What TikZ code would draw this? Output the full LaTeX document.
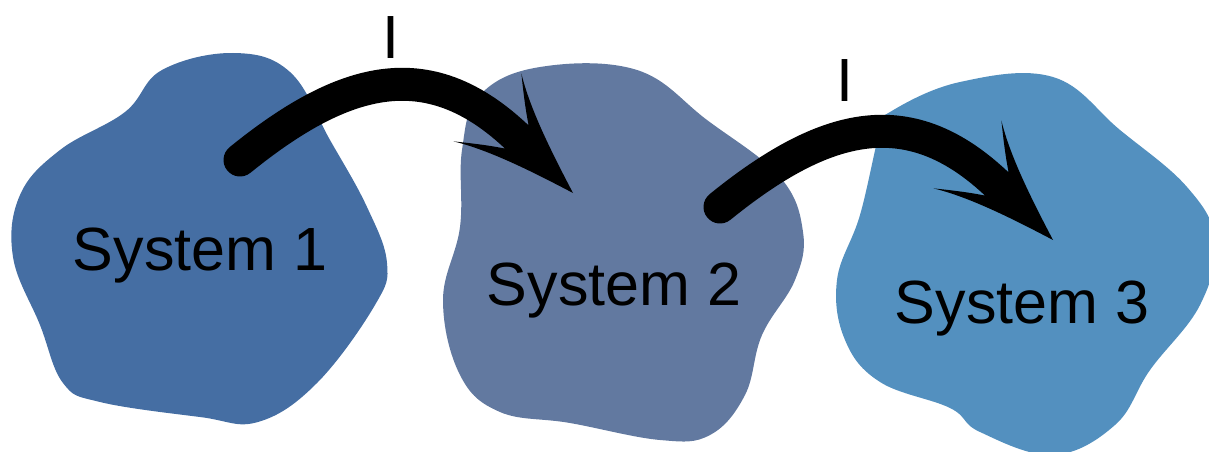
\documentclass[tikz,border=0pt]{standalone}
\usepackage{fontspec}
\setmainfont{Liberation Sans}
\usetikzlibrary{arrows.meta}

% A barbed arrow head with slightly hollow flanks
\pgfdeclarearrow{
  name = Swoop,
  setup code = {
    \pgfarrowssettipend{0pt}
    \pgfarrowssetbackend{-121pt}
    \pgfarrowssetlineend{-70pt}
    \pgfarrowshullpoint{0pt}{0pt}
    \pgfarrowshullpoint{-121pt}{47pt}
    \pgfarrowshullpoint{-121pt}{-47pt}
  },
  drawing code = {
    \pgfpathmoveto{\pgfpointorigin}
    \pgfpathcurveto{\pgfpoint{-45pt}{14pt}}{\pgfpoint{-90pt}{29pt}}{\pgfpoint{-121pt}{48pt}}
    \pgfpathcurveto{\pgfpoint{-105pt}{35pt}}{\pgfpoint{-92pt}{25pt}}{\pgfpoint{-80pt}{17pt}}
    \pgfpathlineto{\pgfpoint{-80pt}{-17pt}}
    \pgfpathcurveto{\pgfpoint{-92pt}{-25pt}}{\pgfpoint{-105pt}{-35pt}}{\pgfpoint{-121pt}{-48pt}}
    \pgfpathcurveto{\pgfpoint{-90pt}{-29pt}}{\pgfpoint{-45pt}{-14pt}}{\pgfpointorigin}
    \pgfpathclose
    \pgfusepathqfill
  }
}

\definecolor{blobA}{HTML}{456EA3}
\definecolor{blobB}{HTML}{6279A0}
\definecolor{blobC}{HTML}{5390BF}

\tikzset{
  syslabel/.style={anchor=base, inner sep=0pt, font=\fontsize{61}{70}\selectfont},
  flowlabel/.style={anchor=base, inner sep=0pt, font=\fontsize{61}{70}\selectfont},
  transfer/.style={line width=33pt, line cap=round, -Swoop}
}

\begin{document}
\begin{tikzpicture}[x=1pt, y=-1pt]
\useasboundingbox (0,0) rectangle (1209,452);
\clip (0,0) rectangle (1209,452);

% system regions
\fill[blobA] plot[smooth cycle, tension=0.65] coordinates {
  (162,70) (233,53) (290,72) (330,140) (367,207) (387,263) (375,305)
  (317,383) (258,422) (200,417) (100,402) (63,383) (40,325) (13,257)
  (20,195) (60,150) (125,112)};
\fill[blobB] plot[smooth cycle, tension=0.65] coordinates {
  (480,95) (540,67) (637,70) (707,120) (780,177) (803,232) (795,280)
  (762,335) (745,395) (710,435) (660,440) (570,423) (500,412) (460,375)
  (443,300) (460,227) (462,150)};
\fill[blobC] plot[smooth cycle, tension=0.65] coordinates {
  (890,112) (960,82) (1053,77) (1120,130) (1187,187) (1215,240)
  (1200,305) (1150,370) (1115,425) (1053,455) (980,432) (950,408)
  (880,382) (845,340) (837,280) (860,215) (880,130)};

% labels
\node[syslabel] (sys1) at (200,270) {System 1};
\node[syslabel] (sys2) at (614,305) {System 2};
\node[syslabel] (sys3) at (1022,323) {System 3};

% transfer arrows
\coordinate (out1) at (240,160);
\coordinate (in2)  at (573,193);
\coordinate (out2) at (720,207);
\coordinate (in3)  at (1053,240);

\draw[transfer] (out1) .. controls (351,70) and (435,55) .. (in2);
\draw[transfer] (out2) .. controls (831,117) and (915,102) .. (in3);

\node[flowlabel] (i1) at (391,59) {I};
\node[flowlabel] (i2) at (845,101) {I};
\end{tikzpicture}
\end{document}
